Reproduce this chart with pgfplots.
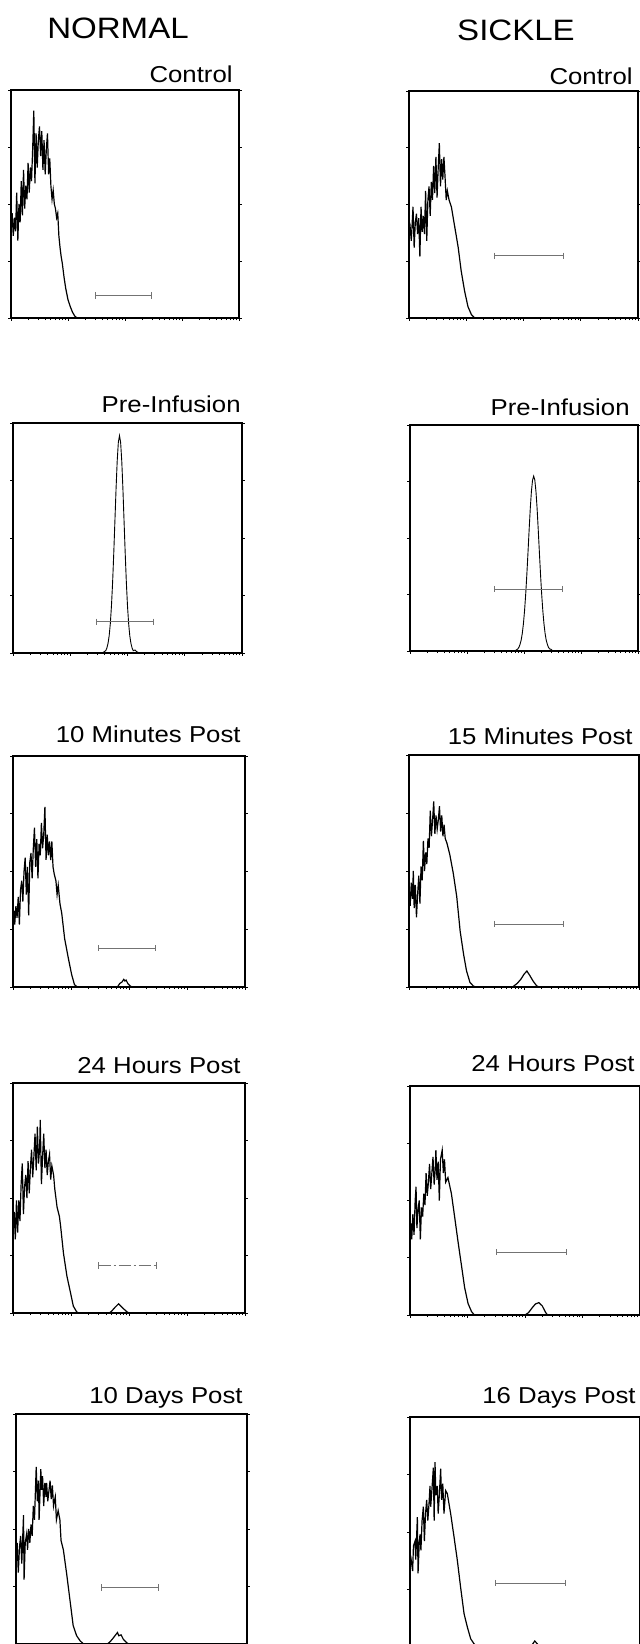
\documentclass[border=0pt]{standalone}
\usepackage{fontspec}
\setmainfont[FakeStretch=1.12]{Liberation Sans}
\usepackage{pgfplots}
\usepackage{pgfplotstable}
\pgfplotsset{compat=1.18}

% x in decades of fluorescence (4-decade log scale), y in % of full scale
\pgfplotstableread{
x y
0.00 40
0.02 46
0.04 36
0.06 44
0.08 38
0.10 55
0.12 34
0.14 50
0.16 42
0.18 60
0.20 45
0.22 65
0.24 48
0.26 58
0.28 52
0.30 68
0.32 55
0.34 66
0.36 60
0.38 74
0.40 91
0.42 59
0.44 81
0.46 66
0.48 78
0.50 84
0.52 71
0.54 82
0.56 65
0.58 78
0.60 63
0.62 74
0.64 81
0.66 63
0.68 70
0.70 58
0.72 52
0.74 56
0.76 50
0.78 48
0.80 44
0.82 46
0.84 36
0.86 31
0.88 27
0.90 24
0.93 18
0.96 13
1.00 8
1.04 5
1.08 2.5
1.12 0.8
1.16 0
4.00 0
}\normctrl

\pgfplotstableread{
x y
0.00 37
0.02 40
0.04 34
0.07 49
0.09 31
0.11 42
0.13 46
0.15 37
0.17 44
0.19 27
0.21 49
0.23 38
0.25 45
0.27 37
0.29 56
0.31 34
0.33 52
0.35 58
0.37 45
0.39 60
0.41 52
0.43 67
0.45 55
0.47 71
0.49 53
0.51 66
0.53 77
0.55 58
0.57 70
0.59 61
0.61 71
0.63 62
0.65 52
0.67 56
0.70 52
0.74 49
0.80 40
0.86 31
0.91 21
0.97 12
1.03 5
1.09 1.5
1.15 0
4.00 0
}\sickctrl

\pgfplotstableread{
x y
0.00 0
1.57 0.2
1.62 1.0
1.64 2.2
1.66 4.2
1.68 7.5
1.70 12.8
1.72 20.5
1.74 30.7
1.76 43.3
1.78 57.3
1.80 71.3
1.82 83.4
1.84 91.6
1.86 94.5
1.88 91.6
1.90 83.4
1.92 71.3
1.94 57.3
1.96 43.3
1.98 30.7
2.00 20.5
2.02 12.8
2.04 7.5
2.06 4.2
2.08 2.2
2.10 1.0
2.13 1.3
2.16 0.6
2.21 0
4.00 0
}\normpre

\pgfplotstableread{
x y
0.00 0
1.85 0.2
1.89 0.9
1.91 1.6
1.93 2.9
1.95 4.8
1.97 7.8
1.99 12.1
2.01 17.9
2.03 25.2
2.05 33.9
2.07 43.6
2.09 53.6
2.11 63.0
2.13 70.6
2.15 75.6
2.17 77.4
2.19 75.6
2.21 70.6
2.23 63.0
2.25 53.6
2.27 43.6
2.29 33.9
2.31 25.2
2.33 17.9
2.35 12.1
2.37 7.8
2.39 4.8
2.41 2.9
2.43 1.6
2.45 0.9
2.47 0.8
2.50 0.2
2.55 0
4.00 0
}\sickpre

\pgfplotstableread{
x y
0.00 29
0.02 33
0.03 27
0.05 35
0.07 30
0.09 39
0.11 27
0.13 42
0.15 46
0.17 37
0.19 50
0.21 56
0.23 40
0.25 52
0.27 31
0.29 54
0.31 58
0.33 47
0.35 60
0.37 69
0.39 52
0.41 64
0.43 47
0.45 62
0.47 57
0.49 71
0.51 60
0.53 66
0.55 78
0.57 55
0.59 66
0.61 57
0.63 63
0.65 55
0.67 63
0.69 52
0.71 49
0.74 46
0.76 40
0.78 44
0.81 36
0.84 32
0.89 21
0.95 13
1.01 5.5
1.06 1
1.11 0
1.80 0
1.84 1.5
1.88 2.2
1.91 3.3
1.93 2.6
1.95 3.0
1.98 1.5
2.02 0.5
2.05 0
4.00 0
}\normten

\pgfplotstableread{
x y
0.00 39
0.02 35
0.04 45
0.06 38
0.075 50
0.09 34
0.11 44
0.13 30
0.15 40
0.17 48
0.19 36
0.21 52
0.23 46
0.25 63
0.27 50
0.29 58
0.31 53
0.33 64
0.35 60
0.37 76
0.39 65
0.41 72
0.43 80
0.45 66
0.47 74
0.49 68
0.51 72
0.53 78
0.55 67
0.57 74
0.59 65
0.61 70
0.63 64
0.66 62
0.71 57
0.77 49
0.83 39
0.89 24
0.95 14
1.00 7
1.06 2
1.12 0.4
1.16 0
1.80 0
1.88 1.5
1.95 3.5
2.00 5.5
2.05 6.9
2.10 5
2.16 2.5
2.22 0.5
2.26 0
4.00 0
}\sickfifteen

\pgfplotstableread{
x y
0.00 38
0.02 44
0.04 32
0.06 49
0.08 35
0.10 49
0.12 40
0.14 56
0.16 65
0.18 43
0.20 55
0.22 60
0.24 50
0.26 66
0.28 52
0.30 63
0.32 71
0.34 59
0.36 68
0.38 78
0.40 62
0.42 81
0.44 65
0.46 72
0.47 84
0.49 56
0.51 68
0.53 78
0.55 63
0.57 71
0.59 60
0.61 66
0.63 69
0.65 58
0.67 64
0.70 60
0.72 54
0.76 46
0.80 42
0.82 38
0.87 26
0.93 16
0.99 9
1.04 3
1.10 0.4
1.14 0
1.66 0
1.70 0.8
1.76 2.5
1.82 4
1.86 3
1.90 2
1.96 0.6
2.00 0
4.00 0
}\normday

\pgfplotstableread{
x y
0.00 36
0.02 40
0.03 33
0.05 44
0.07 35
0.09 50
0.105 56
0.12 38
0.14 46
0.16 50
0.18 33
0.20 47
0.22 43
0.24 53
0.26 48
0.28 62
0.30 52
0.32 58
0.34 66
0.36 55
0.38 62
0.40 69
0.42 57
0.44 64
0.45 72
0.47 59
0.49 67
0.51 50
0.53 68
0.56 72
0.58 62
0.60 68
0.62 58
0.66 60
0.72 53
0.77 44
0.83 33
0.89 22.5
0.95 12
1.01 5
1.07 1.5
1.12 0
2.00 0
2.06 1
2.12 3
2.18 4.8
2.24 5.4
2.30 4
2.35 1.5
2.38 0.3
2.42 0
4.00 0
}\sickday

\pgfplotstableread{
x y
0.00 40
0.02 44
0.04 31
0.06 42
0.08 47
0.10 35
0.13 56
0.14 28
0.16 44
0.185 48
0.20 41
0.22 50
0.24 44
0.26 52
0.28 47
0.30 60
0.32 54
0.35 77
0.37 62
0.39 71
0.40 54
0.43 76
0.44 67
0.46 73
0.48 60
0.50 70
0.52 64
0.53 70
0.55 62
0.59 71
0.61 63
0.63 69
0.65 60
0.68 64
0.70 54
0.73 58
0.76 54
0.78 45
0.82 41
0.88 30
0.94 18
0.99 8
1.05 3.6
1.11 1.4
1.17 0
1.58 0
1.63 1
1.68 2.5
1.72 3.8
1.757 5
1.78 3.6
1.82 4
1.86 2
1.92 0.5
1.96 0
4.00 0
}\normtend

\pgfplotstableread{
x y
0.00 35
0.02 38
0.046 33
0.06 44
0.087 46
0.10 38
0.128 56.5
0.14 32
0.16 45
0.174 49
0.19 42
0.21 55
0.232 61
0.25 46
0.27 58
0.29 64
0.31 55
0.33 62
0.348 70
0.36 61
0.38 68
0.406 78
0.42 55
0.435 80.4
0.45 66
0.475 70
0.49 58
0.51 66
0.533 77.5
0.55 64
0.57 71
0.591 58
0.62 68
0.649 66.7
0.68 62
0.707 58
0.765 48
0.823 37.7
0.88 26
0.94 14.5
0.997 8.7
1.055 3.6
1.113 1.4
1.17 0
2.08 0
2.13 1.2
2.17 2.6
2.21 1.5
2.26 0
4.00 0
}\sicksixteen

\pgfplotsset{
  flow/.style={
    scale only axis,
    xmin=0, xmax=4, ymin=0, ymax=100,
    xtick={0,1,2,3,4},
    minor xtick={0.301,0.477,0.602,0.699,0.778,0.845,0.903,0.954,
      1.301,1.477,1.602,1.699,1.778,1.845,1.903,1.954,
      2.301,2.477,2.602,2.699,2.778,2.845,2.903,2.954,
      3.301,3.477,3.602,3.699,3.778,3.845,3.903,3.954},
    ytick={0,25,50,75,100},
    xticklabels={}, yticklabels={},
    tick align=outside, xtick pos=bottom, ytick pos=both,
    major tick length=1.4pt, minor tick length=1.1pt,
    every tick/.style={black, line width=0.4pt},
    axis line style={line width=0.6pt},
    anchor=north west,
  },
  curve/.style={black, line width=0.6pt, no marks},
  gate/.style={black!55, line width=0.5pt, mark=|, mark size=1.6pt,
    mark options={solid, line width=0.5pt}},
}

\begin{document}
\begin{tikzpicture}
\useasboundingbox (0,0) rectangle (320pt,-822pt);

\node[anchor=base, font=\fontsize{14.75}{16}\selectfont] at (59pt,-19pt) {NORMAL};
\node[anchor=base, font=\fontsize{14.75}{16}\selectfont] at (258pt,-20pt) {SICKLE};

\tikzset{lab/.style={anchor=base east, inner sep=0pt, font=\fontsize{11.5}{13}\selectfont}}
\node[lab] at (116.5pt,-41pt) {Control};
\node[lab] at (316.5pt,-42pt) {Control};
\node[lab] at (120.5pt,-206pt) {Pre-Infusion};
\node[lab] at (315pt,-207.5pt) {Pre-Infusion};
\node[lab] at (120.5pt,-371pt) {10 Minutes Post};
\node[lab] at (316.5pt,-372pt) {15 Minutes Post};
\node[lab] at (120.5pt,-536.5pt) {24 Hours Post};
\node[lab] at (317.5pt,-535.5pt) {24 Hours Post};
\node[lab] at (121.5pt,-701.5pt) {10 Days Post};
\node[lab] at (318pt,-701.5pt) {16 Days Post};

% row 1
\begin{axis}[flow, at={(5.5pt,-45pt)}, width=114pt, height=114pt]
\addplot[curve] table {\normctrl};
\addplot[gate] coordinates {(1.48,9.8) (2.47,9.8)};
\end{axis}
\begin{axis}[flow, at={(204.5pt,-45.5pt)}, width=114.5pt, height=113.5pt]
\addplot[curve] table {\sickctrl};
\addplot[gate] coordinates {(1.485,27.4) (2.69,27.4)};
\end{axis}

% row 2
\begin{axis}[flow, at={(6.5pt,-211.5pt)}, width=114.5pt, height=115pt]
\addplot[curve, line width=0.45pt] table {\normpre};
\addplot[gate] coordinates {(1.46,13.6) (2.45,13.6)};
\end{axis}
\begin{axis}[flow, at={(205pt,-212.5pt)}, width=114pt, height=113pt]
\addplot[curve, line width=0.45pt] table {\sickpre};
\addplot[gate] coordinates {(1.48,27.4) (2.68,27.4)};
\end{axis}

% row 3
\begin{axis}[flow, at={(6.5pt,-378pt)}, width=116pt, height=115.5pt]
\addplot[curve] table {\normten};
\addplot[gate] coordinates {(1.47,16.8) (2.46,16.8)};
\end{axis}
\begin{axis}[flow, at={(204.5pt,-377.5pt)}, width=115pt, height=116pt]
\addplot[curve] table {\sickfifteen};
\addplot[gate] coordinates {(1.48,27.1) (2.68,27.1)};
\end{axis}

% row 4
\begin{axis}[flow, at={(6.5pt,-541.5pt)}, width=116pt, height=115pt]
\addplot[curve] table {\normday};
\addplot[gate, dash pattern=on 6pt off 1.5pt on 1pt off 1.5pt] coordinates {(1.475,20.7) (2.47,20.7)};
\end{axis}
\begin{axis}[flow, at={(205pt,-543pt)}, width=115pt, height=114.5pt]
\addplot[curve] table {\sickday};
\addplot[gate] coordinates {(1.50,27.4) (2.725,27.4)};
\end{axis}

% row 5
\begin{axis}[flow, at={(8pt,-707pt)}, width=115.5pt, height=115pt]
\addplot[curve] table {\normtend};
\addplot[gate] coordinates {(1.486,24.6) (2.468,24.6)};
\end{axis}
\begin{axis}[flow, at={(205pt,-708.5pt)}, width=115pt, height=115pt]
\addplot[curve] table {\sicksixteen};
\addplot[gate] coordinates {(1.49,27.8) (2.71,27.8)};
\end{axis}
\end{tikzpicture}
\end{document}
